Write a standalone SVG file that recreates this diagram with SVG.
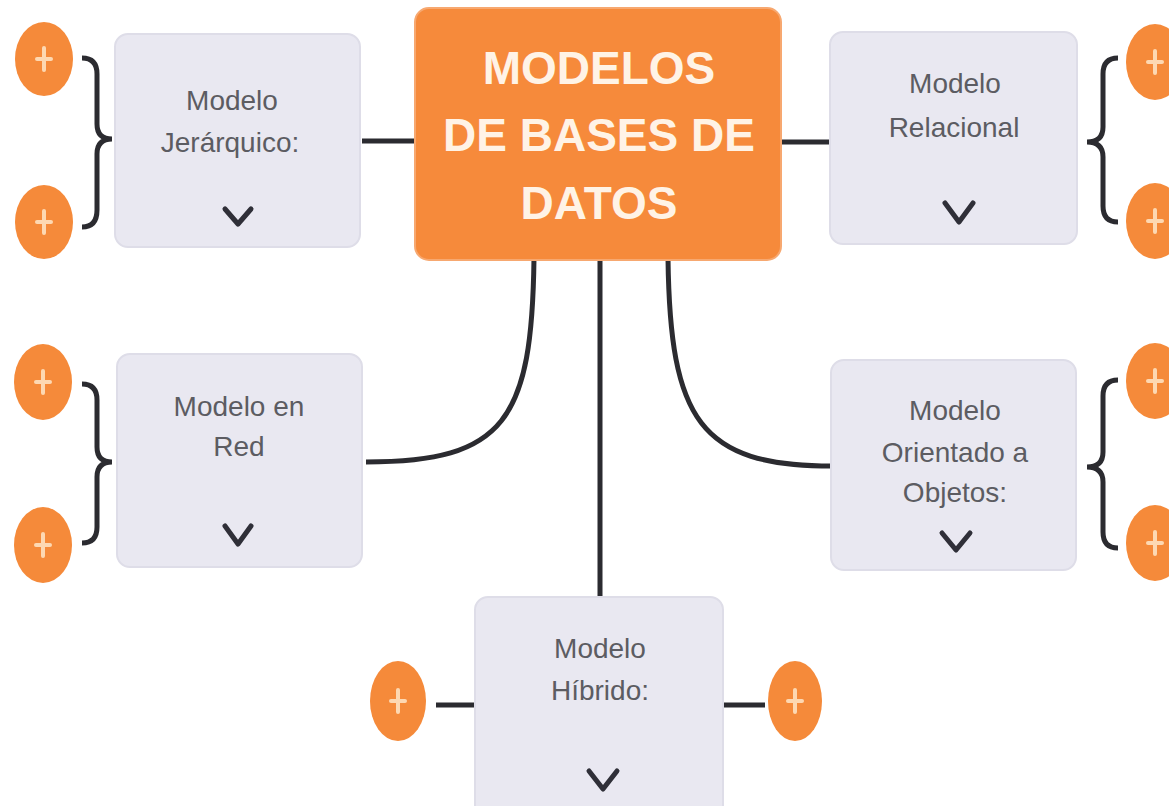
<svg xmlns="http://www.w3.org/2000/svg" width="1169" height="806" viewBox="0 0 1169 806">
<defs>
<style>
.node{fill:#E9E8F1;stroke:#DEDDE8;stroke-width:2}
.lbl{font-family:"Liberation Sans",Arial,sans-serif;font-size:28px;fill:#5c5c62;text-anchor:middle}
.title{font-family:"Liberation Sans",Arial,sans-serif;font-size:46px;font-weight:bold;fill:#FFF3E6;text-anchor:middle}
.chev{fill:none;stroke:#2f2f38;stroke-width:5;stroke-linecap:round;stroke-linejoin:round}
.conn{fill:none;stroke:#2b2b30;stroke-width:5}
.plus{fill:#F58A3A}
.pl{stroke:#FDD8B2;stroke-width:4;stroke-linecap:round}
</style>
</defs>
<rect width="1169" height="806" fill="#ffffff"/>
<g id="connectors">
<line class="conn" x1="362" y1="141" x2="416" y2="141"/>
<line class="conn" x1="780" y1="142" x2="830" y2="142"/>
<line class="conn" x1="600" y1="258" x2="600" y2="598"/>
<path class="conn" d="M534,258 C532,420 505,462 366,462"/>
<path class="conn" d="M668,258 C670,420 700,466 832,466"/>
<line class="conn" x1="436" y1="705" x2="475" y2="705"/>
<line class="conn" x1="723" y1="705" x2="765" y2="705"/>
<path class="conn" d="M82,58 Q97,58 97,74 L97,124 Q97,139 112,139 Q97,139 97,154 L97,210 Q97,227 82,227"/>
<path class="conn" d="M82,384 Q97,384 97,400 L97,447 Q97,462 112,462 Q97,462 97,477 L97,527 Q97,543 82,543"/>
<path class="conn" d="M1118,58 Q1103,58 1103,74 L1103,127 Q1103,142 1087,142 Q1103,142 1103,157 L1103,206 Q1103,222 1118,222"/>
<path class="conn" d="M1118,380 Q1103,380 1103,396 L1103,452 Q1103,467 1087,467 Q1103,467 1103,482 L1103,532 Q1103,548 1118,548"/>
</g>
<g id="center">
<rect x="415" y="8" width="366" height="252" rx="14" fill="#F68A3B" stroke="#F7A870" stroke-width="2"/>
<text class="title" x="599" y="84">MODELOS</text>
<text class="title" x="599" y="151">DE BASES DE</text>
<text class="title" x="599" y="219">DATOS</text>
</g>
<g id="n-jerarquico">
<rect class="node" x="115" y="34" width="245" height="213" rx="13"/>
<text class="lbl" x="232" y="110">Modelo</text>
<text class="lbl" x="230" y="152">Jerárquico:</text>
<polyline class="chev" points="225,209 238,224 251,209"/>
</g>
<g id="n-relacional">
<rect class="node" x="830" y="32" width="247" height="212" rx="13"/>
<text class="lbl" x="955" y="93">Modelo</text>
<text class="lbl" x="954" y="137">Relacional</text>
<polyline class="chev" points="945,203 959,222 973,203"/>
</g>
<g id="n-red">
<rect class="node" x="117" y="354" width="245" height="213" rx="13"/>
<text class="lbl" x="239" y="416">Modelo en</text>
<text class="lbl" x="239" y="456">Red</text>
<polyline class="chev" points="225,526 238,544 251,526"/>
</g>
<g id="n-objetos">
<rect class="node" x="831" y="360" width="245" height="210" rx="13"/>
<text class="lbl" x="955" y="420">Modelo</text>
<text class="lbl" x="955" y="462">Orientado a</text>
<text class="lbl" x="955" y="502">Objetos:</text>
<polyline class="chev" points="942,533 956,550 970,533"/>
</g>
<g id="n-hibrido">
<rect class="node" x="475" y="597" width="248" height="222" rx="13"/>
<text class="lbl" x="600" y="658">Modelo</text>
<text class="lbl" x="600" y="700">Híbrido:</text>
<polyline class="chev" points="589,771 603,789 617,771"/>
</g>
<g id="plus-tl1"><ellipse class="plus" cx="44" cy="59" rx="29" ry="37"/><line class="pl" x1="44" y1="48" x2="44" y2="70"/><line class="pl" x1="37" y1="59" x2="51" y2="59"/></g>
<g id="plus-tl2"><ellipse class="plus" cx="44" cy="222" rx="29" ry="37"/><line class="pl" x1="44" y1="211" x2="44" y2="233"/><line class="pl" x1="37" y1="222" x2="51" y2="222"/></g>
<g id="plus-ml1"><ellipse class="plus" cx="43" cy="382" rx="29" ry="38"/><line class="pl" x1="43" y1="371" x2="43" y2="393"/><line class="pl" x1="36" y1="382" x2="50" y2="382"/></g>
<g id="plus-ml2"><ellipse class="plus" cx="43" cy="545" rx="29" ry="38"/><line class="pl" x1="43" y1="534" x2="43" y2="556"/><line class="pl" x1="36" y1="545" x2="50" y2="545"/></g>
<g id="plus-tr1"><ellipse class="plus" cx="1155" cy="62" rx="29" ry="38"/><line class="pl" x1="1155" y1="51" x2="1155" y2="73"/><line class="pl" x1="1148" y1="62" x2="1162" y2="62"/></g>
<g id="plus-tr2"><ellipse class="plus" cx="1155" cy="221" rx="29" ry="38"/><line class="pl" x1="1155" y1="210" x2="1155" y2="232"/><line class="pl" x1="1148" y1="221" x2="1162" y2="221"/></g>
<g id="plus-mr1"><ellipse class="plus" cx="1155" cy="381" rx="29" ry="38"/><line class="pl" x1="1155" y1="370" x2="1155" y2="392"/><line class="pl" x1="1148" y1="381" x2="1162" y2="381"/></g>
<g id="plus-mr2"><ellipse class="plus" cx="1155" cy="543" rx="29" ry="38"/><line class="pl" x1="1155" y1="532" x2="1155" y2="554"/><line class="pl" x1="1148" y1="543" x2="1162" y2="543"/></g>
<g id="plus-b1"><ellipse class="plus" cx="398" cy="701" rx="28" ry="40"/><line class="pl" x1="398" y1="690" x2="398" y2="712"/><line class="pl" x1="391" y1="701" x2="405" y2="701"/></g>
<g id="plus-b2"><ellipse class="plus" cx="795" cy="701" rx="27" ry="40"/><line class="pl" x1="795" y1="690" x2="795" y2="712"/><line class="pl" x1="788" y1="701" x2="802" y2="701"/></g>
</svg>
